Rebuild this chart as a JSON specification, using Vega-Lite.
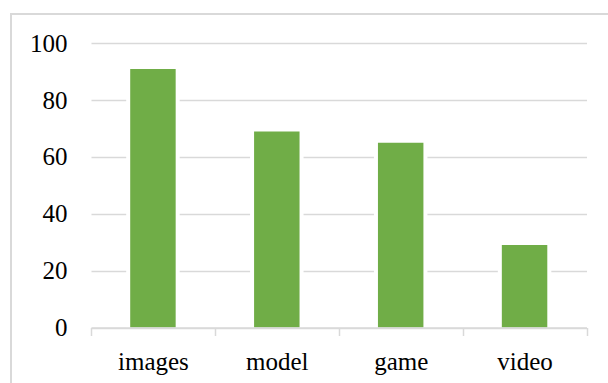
{
  "$schema": "https://vega.github.io/schema/vega-lite/v6.json",
  "width": 597,
  "height": 369,
  "autosize": {"type": "none"},
  "padding": {"left": 11, "top": 14, "right": 0, "bottom": 0},
  "background": "white",
  "config": {
    "view": {"stroke": "#d9d9d9", "strokeWidth": 2, "strokeDash": [597, 966, 369, 10]},
    "font": "Liberation Serif",
    "axis": {"labelFont": "Liberation Serif"}
  },
  "data": {
    "values": [
      {"category": "images", "value": 91},
      {"category": "model", "value": 69},
      {"category": "game", "value": 65},
      {"category": "video", "value": 29}
    ]
  },
  "encoding": {
    "x": {
      "field": "category",
      "type": "nominal",
      "sort": null,
      "scale": {"range": [80, 575.5], "paddingInner": 0, "paddingOuter": 0},
      "axis": {
        "orient": "bottom",
        "offset": -55.5,
        "title": null,
        "labelAngle": 0,
        "domainColor": "#d9d9d9",
        "domainWidth": 1.5,
        "tickColor": "#d9d9d9",
        "tickWidth": 1.5,
        "tickSize": 8,
        "tickBand": "extent",
        "labelFont": "Liberation Serif",
        "labelFontSize": 25,
        "labelColor": "black",
        "labelPadding": 34,
        "labelBaseline": "alphabetic",
        "zindex": 1,
        "grid": false
      }
    },
    "y": {
      "field": "value",
      "type": "quantitative",
      "scale": {"domain": [0, 100], "range": [313.5, 29.3], "nice": false},
      "axis": {
        "orient": "left",
        "offset": -80,
        "title": null,
        "domain": false,
        "ticks": false,
        "labelPadding": 24,
        "labelFont": "Liberation Serif",
        "labelFontSize": 25,
        "labelColor": "black",
        "grid": true,
        "gridColor": "#d9d9d9",
        "gridWidth": 1.5,
        "values": [0, 20, 40, 60, 80, 100]
      }
    }
  },
  "layer": [
    {"mark": {"type": "bar", "color": "white", "width": {"band": 0.432}}},
    {"mark": {"type": "bar", "color": "#70ad47", "width": {"band": 0.367}}}
  ]
}
